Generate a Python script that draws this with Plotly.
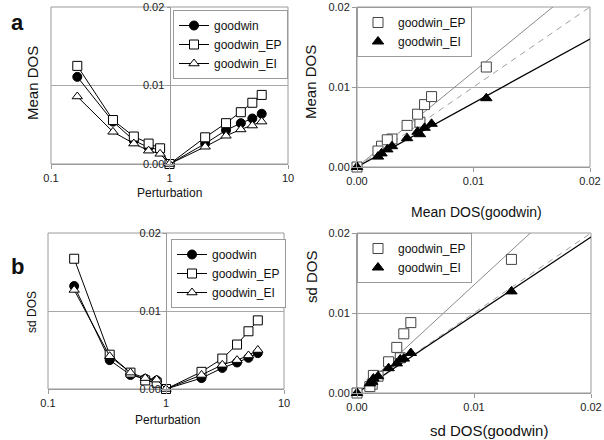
import plotly.graph_objects as go

# ---------------- data ----------------
perturbation = [1/6, 1/3, 1/2, 2/3, 5/6, 1, 2, 3, 4, 5, 6]

mean_goodwin = [0.0111, 0.0054, 0.0030, 0.0021, 0.0018, 0.0, 0.0026, 0.0043, 0.0052, 0.0058, 0.0064]
mean_EP      = [0.0125, 0.0056, 0.0035, 0.0026, 0.0020, 0.0, 0.0034, 0.0052, 0.0066, 0.0078, 0.0088]
mean_EI      = [0.0086, 0.0041, 0.0026, 0.0017, 0.0013, 0.0, 0.0022, 0.0036, 0.0044, 0.0049, 0.0054]

sd_goodwin = [0.0132, 0.0037, 0.0018, 0.0013, 0.0011, 0.0, 0.0014, 0.0027, 0.0034, 0.0040, 0.0046]
sd_EP      = [0.0167, 0.0044, 0.0021, 0.0011, 0.0008, 0.0, 0.0022, 0.0039, 0.0057, 0.0074, 0.0088]
sd_EI      = [0.0127, 0.0042, 0.0021, 0.0014, 0.0012, 0.0, 0.0018, 0.0031, 0.0037, 0.0043, 0.0050]

# trendline slopes (through origin)
mean_slope_EP, mean_slope_EI = 1.19, 0.80
sd_slope_EP, sd_slope_EI = 1.35, 0.975

dos_ticks = [0.0, 0.01, 0.02]
dos_ticklabels = ["0.00", "0.01", "0.02"]
pert_ticks = [0.1, 1, 10]
pert_ticklabels = ["0.1", "1", "10"]
dos_range = [0.0, 0.02]

FONT = "Arial, Liberation Sans, sans-serif"
W, H = 604, 440
GRID = "#a8a8a8"
FRAME = "#9a9a9a"


def px(v):
    return v / W


def py(v):
    return 1 - v / H


fig = go.Figure()

# panel boxes (pixels): left, right, top, bottom
boxes = {
    "a_left": (51, 288, 7, 164),
    "a_right": (357, 590, 7, 167),
    "b_left": (48, 284, 233, 389),
    "b_right": (357, 591, 233, 393),
}

axes_ids = {"a_left": ("x", "y", "xaxis", "yaxis"),
            "a_right": ("x2", "y2", "xaxis2", "yaxis2"),
            "b_left": ("x3", "y3", "xaxis3", "yaxis3"),
            "b_right": ("x4", "y4", "xaxis4", "yaxis4")}

tickfont = dict(family=FONT, size=11, color="#222")

layout_axes = {}
for key, (l, r, t, b) in boxes.items():
    xa, ya, xname, yname = axes_ids[key]
    is_left = key.endswith("left")
    xdom = [px(l), px(r)]
    ydom = [py(b), py(t)]
    common = dict(automargin=False, zeroline=False, showline=True,
                  linecolor=FRAME, linewidth=1, ticks="outside",
                  tickcolor=FRAME, tickfont=tickfont)
    if is_left:
        layout_axes[xname] = dict(
            domain=xdom, anchor=ya, type="log", range=[-1, 1],
            tickvals=pert_ticks, ticktext=pert_ticklabels, showgrid=False,
            ticklen=4, **common)
        # y axis crosses at perturbation = 1 (middle of log range)
        layout_axes[yname] = dict(
            domain=ydom, anchor="free", position=px((l + r) / 2), range=dos_range,
            tickvals=dos_ticks, ticktext=dos_ticklabels, showgrid=True,
            gridcolor=GRID, gridwidth=1, ticklen=3, **common)
    else:
        layout_axes[xname] = dict(
            domain=xdom, anchor=ya, range=dos_range, tickvals=dos_ticks,
            ticktext=dos_ticklabels, showgrid=False, ticklen=4, **common)
        layout_axes[yname] = dict(
            domain=ydom, anchor=xa, range=dos_range, tickvals=dos_ticks,
            ticktext=dos_ticklabels, showgrid=True, gridcolor=GRID,
            gridwidth=1, ticklen=4, **common)

fig.update_layout(template="none", **layout_axes)


# ---------- left panels (lines + markers vs perturbation) ----------
def left_traces(xa, ya, gw, ep, ei, legend):
    fig.add_trace(go.Scatter(
        x=perturbation, y=gw, mode="lines+markers", name="goodwin",
        xaxis=xa, yaxis=ya, legend=legend, cliponaxis=False,
        line=dict(color="black", width=1),
        marker=dict(symbol="circle", size=9, color="black",
                    line=dict(color="black", width=1))))
    fig.add_trace(go.Scatter(
        x=perturbation, y=ep, mode="lines+markers", name="goodwin_EP",
        xaxis=xa, yaxis=ya, legend=legend, cliponaxis=False,
        line=dict(color="black", width=1),
        marker=dict(symbol="square", size=9, color="white",
                    line=dict(color="black", width=1))))
    fig.add_trace(go.Scatter(
        x=perturbation, y=ei, mode="lines+markers", name="goodwin_EI",
        xaxis=xa, yaxis=ya, legend=legend, cliponaxis=False,
        line=dict(color="black", width=1),
        marker=dict(symbol="triangle-up", size=9, color="white",
                    line=dict(color="black", width=1))))


left_traces("x", "y", mean_goodwin, mean_EP, mean_EI, "legend")
left_traces("x3", "y3", sd_goodwin, sd_EP, sd_EI, "legend3")


# ---------- right panels (scatter vs goodwin + trendlines) ----------
def right_traces(xa, ya, gw, ep, ei, s_ep, s_ei, legend):
    fx = dos_range
    fig.add_trace(go.Scatter(
        x=fx, y=[s_ep * v for v in fx], mode="lines", showlegend=False,
        xaxis=xa, yaxis=ya, line=dict(color="#8a8a8a", width=1)))
    fig.add_trace(go.Scatter(
        x=fx, y=fx, mode="lines", showlegend=False,
        xaxis=xa, yaxis=ya, line=dict(color="#a0a0a0", width=1, dash="6px,5px")))
    fig.add_trace(go.Scatter(
        x=fx, y=[s_ei * v for v in fx], mode="lines", showlegend=False,
        xaxis=xa, yaxis=ya, line=dict(color="black", width=1.2)))
    fig.add_trace(go.Scatter(
        x=gw, y=ep, mode="markers", name="goodwin_EP", xaxis=xa, yaxis=ya,
        legend=legend, cliponaxis=False,
        marker=dict(symbol="square", size=10, color="white",
                    line=dict(color="#444", width=1))))
    fig.add_trace(go.Scatter(
        x=gw, y=ei, mode="markers", name="goodwin_EI", xaxis=xa, yaxis=ya,
        legend=legend, cliponaxis=False,
        marker=dict(symbol="triangle-up", size=10, color="black",
                    line=dict(color="black", width=1))))


right_traces("x2", "y2", mean_goodwin, mean_EP, mean_EI, mean_slope_EP, mean_slope_EI, "legend2")
right_traces("x4", "y4", sd_goodwin, sd_EP, sd_EI, sd_slope_EP, sd_slope_EI, "legend4")

# frames around plot areas
for key, (xa, ya, _, _) in axes_ids.items():
    fig.add_shape(type="rect", xref=f"{xa} domain", yref=f"{ya} domain",
                  x0=0, x1=1, y0=0, y1=1, line=dict(color=FRAME, width=1),
                  layer="below")

legfont = dict(family=FONT, size=12, color="#111")
leg_common = dict(bgcolor="white", bordercolor=FRAME, borderwidth=1,
                  font=legfont, xanchor="left", yanchor="top",
                  tracegroupgap=0, itemwidth=30)
fig.update_layout(
    legend=dict(x=px(173), y=py(10), **leg_common),
    legend2=dict(x=px(357), y=py(7), **leg_common),
    legend3=dict(x=px(171), y=py(239), **leg_common),
    legend4=dict(x=px(357), y=py(233), **leg_common),
)


# titles and panel letters
def ann(text, x, y, size, angle=0, bold=False):
    fig.add_annotation(text=f"<b>{text}</b>" if bold else text,
                       x=px(x), y=py(y), xref="paper", yref="paper",
                       showarrow=False, textangle=angle,
                       font=dict(family=FONT, size=size, color="#111"),
                       xanchor="center", yanchor="middle")


ann("a", 17, 23, 22, bold=True)
ann("b", 17, 266, 22, bold=True)
ann("Perturbation", 169, 193, 12)
ann("Mean DOS", 33, 83, 15, angle=-90)
ann("Mean DOS(goodwin)", 476, 212, 14)
ann("Mean DOS", 310, 82, 15, angle=-90)
ann("Perturbation", 167, 420, 12)
ann("sd DOS", 32, 312, 12, angle=-90)
ann("sd DOS(goodwin)", 489, 430, 15)
ann("sd DOS", 311, 277, 15, angle=-90)

fig.update_layout(width=W, height=H, margin=dict(l=0, r=0, t=0, b=0, pad=0),
                  paper_bgcolor="white", plot_bgcolor="white",
                  font=dict(family=FONT, size=12, color="#111"))

fig.write_html(
    "out.html",
    config={"displayModeBar": False},
    post_script="document.body.style.margin='0';document.body.style.overflow='hidden';",
)
